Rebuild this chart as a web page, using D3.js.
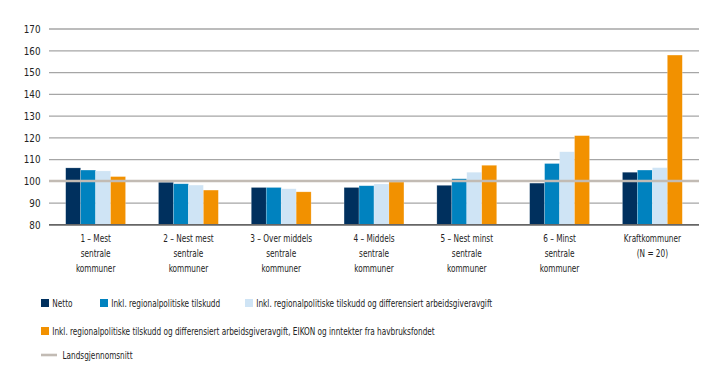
<!DOCTYPE html>
<html>
<head>
<meta charset="utf-8">
<script src="https://cdn.jsdelivr.net/npm/d3@7"></script>
<style>
  html, body { margin: 0; padding: 0; background: #fff; }
  svg { display: block; }
  text { font-family: "DejaVu Sans Condensed", "Liberation Sans", sans-serif; fill: #222; }
</style>
</head>
<body>
<svg id="chart" width="719" height="383"></svg>
<script>
const categories = [
  ["1 – Mest", "sentrale", "kommuner"],
  ["2 – Nest mest", "sentrale", "kommuner"],
  ["3 – Over middels", "sentrale", "kommuner"],
  ["4 – Middels", "sentrale", "kommuner"],
  ["5 – Nest minst", "sentrale", "kommuner"],
  ["6 – Minst", "sentrale", "kommuner"],
  ["Kraftkommuner", "(N = 20)"]
];
const seriesNames = [
  "Netto",
  "Inkl. regionalpolitiske tilskudd",
  "Inkl. regionalpolitiske tilskudd og differensiert arbeidsgiveravgift",
  "Inkl. regionalpolitiske tilskudd og differensiert arbeidsgiveravgift, EIKON og inntekter fra havbruksfondet"
];
const netto    = [106, 99.4, 97, 97, 98, 99, 104];
const regional = [105, 98.7, 97, 97.8, 101, 108, 105];
const diffAga  = [104.6, 98.1, 96.4, 98.6, 104, 113.4, 106.1];
const eikon    = [102, 95.8, 95, 99.5, 107.2, 120.8, 157.8];
const average = 100;
const averageLabel = "Landsgjennomsnitt";
const yTicks = [80, 90, 100, 110, 120, 130, 140, 150, 160, 170];
const colors = ["#00305e", "#0082bf", "#cfe4f5", "#f29100"];

const series = [netto, regional, diffAga, eikon];
const svg = d3.select("#chart");
const mLeft = 49, mRight = 699, mTop = 28.5, mBottom = 224.5;
const FS = 10.6, SX = 0.77;

function addText(parent, x, yy, str, anchor, sx) {
  const g = parent.append("g").attr("transform", `translate(${x},${yy}) scale(${sx},1)`);
  return g.append("text").attr("x", 0).attr("y", 0)
    .attr("text-anchor", anchor || "start").attr("font-size", FS).text(str);
}

const y = d3.scaleLinear().domain([80, 170]).range([mBottom, mTop]);
const x0 = d3.scaleBand().domain(d3.range(categories.length)).range([mLeft, mRight]).paddingInner(0.355).paddingOuter(0.18);
const x1 = d3.scaleBand().domain(d3.range(series.length)).range([0, x0.bandwidth()]);

// gridlines
const yAxis = d3.axisLeft(y).tickValues(yTicks).tickSize(-(mRight - mLeft)).tickFormat(d3.format("d"));
const gAxis = svg.append("g").attr("transform", `translate(${mLeft},0)`).call(yAxis);
gAxis.select(".domain").remove();
gAxis.selectAll(".tick line").attr("stroke", d => d === 80 ? "#666" : "#a6a6a6").attr("stroke-width", 1.3);
gAxis.selectAll(".tick text").remove();
gAxis.selectAll(".tick").each(function (d) {
  addText(d3.select(this), -8.5, 3.8, d3.format("d")(d), "end", 0.92);
});

// bars
const groups = svg.append("g").selectAll("g").data(categories).join("g")
  .attr("transform", (d, i) => `translate(${x0(i)},0)`);
groups.selectAll("rect").data((d, i) => series.map((s, j) => ({ j, v: s[i] }))).join("rect")
  .attr("x", d => x1(d.j))
  .attr("width", x1.bandwidth())
  .attr("y", d => y(d.v))
  .attr("height", d => y(80) - y(d.v))
  .attr("fill", d => colors[d.j])
  .attr("stroke", "rgba(255,255,255,0.35)")
  .attr("stroke-width", 0.6);

// average line
svg.append("line")
  .attr("x1", mLeft).attr("x2", mRight)
  .attr("y1", y(average)).attr("y2", y(average))
  .attr("stroke", "#c2bbb4").attr("stroke-width", 2.6);

// baseline
svg.append("line").attr("x1", mLeft).attr("x2", mRight).attr("y1", y(80)).attr("y2", y(80))
  .attr("stroke", "#666").attr("stroke-width", 1);

// category labels
const labG = svg.append("g");
categories.forEach((lines, i) => {
  lines.forEach((ln, k) => {
    addText(labG, x0(i) + x0.bandwidth() / 2, 242 + k * 14.8, ln, "middle", SX);
  });
});

// legend
const legendItems = [
  { i: 0, x: 41, y: 303 },
  { i: 1, x: 100, y: 303 },
  { i: 2, x: 245, y: 303 },
  { i: 3, x: 41, y: 331 }
];
const lg = svg.append("g");
legendItems.forEach(it => {
  lg.append("rect").attr("x", it.x).attr("y", it.y - 4).attr("width", 8).attr("height", 8).attr("fill", colors[it.i]);
  addText(lg, it.x + 11.3, it.y + 4, seriesNames[it.i], "start", SX);
});
lg.append("line").attr("x1", 41).attr("x2", 57).attr("y1", 355).attr("y2", 355).attr("stroke", "#c2bbb4").attr("stroke-width", 2.6);
addText(lg, 62.5, 359, averageLabel, "start", SX);
</script>
</body>
</html>
